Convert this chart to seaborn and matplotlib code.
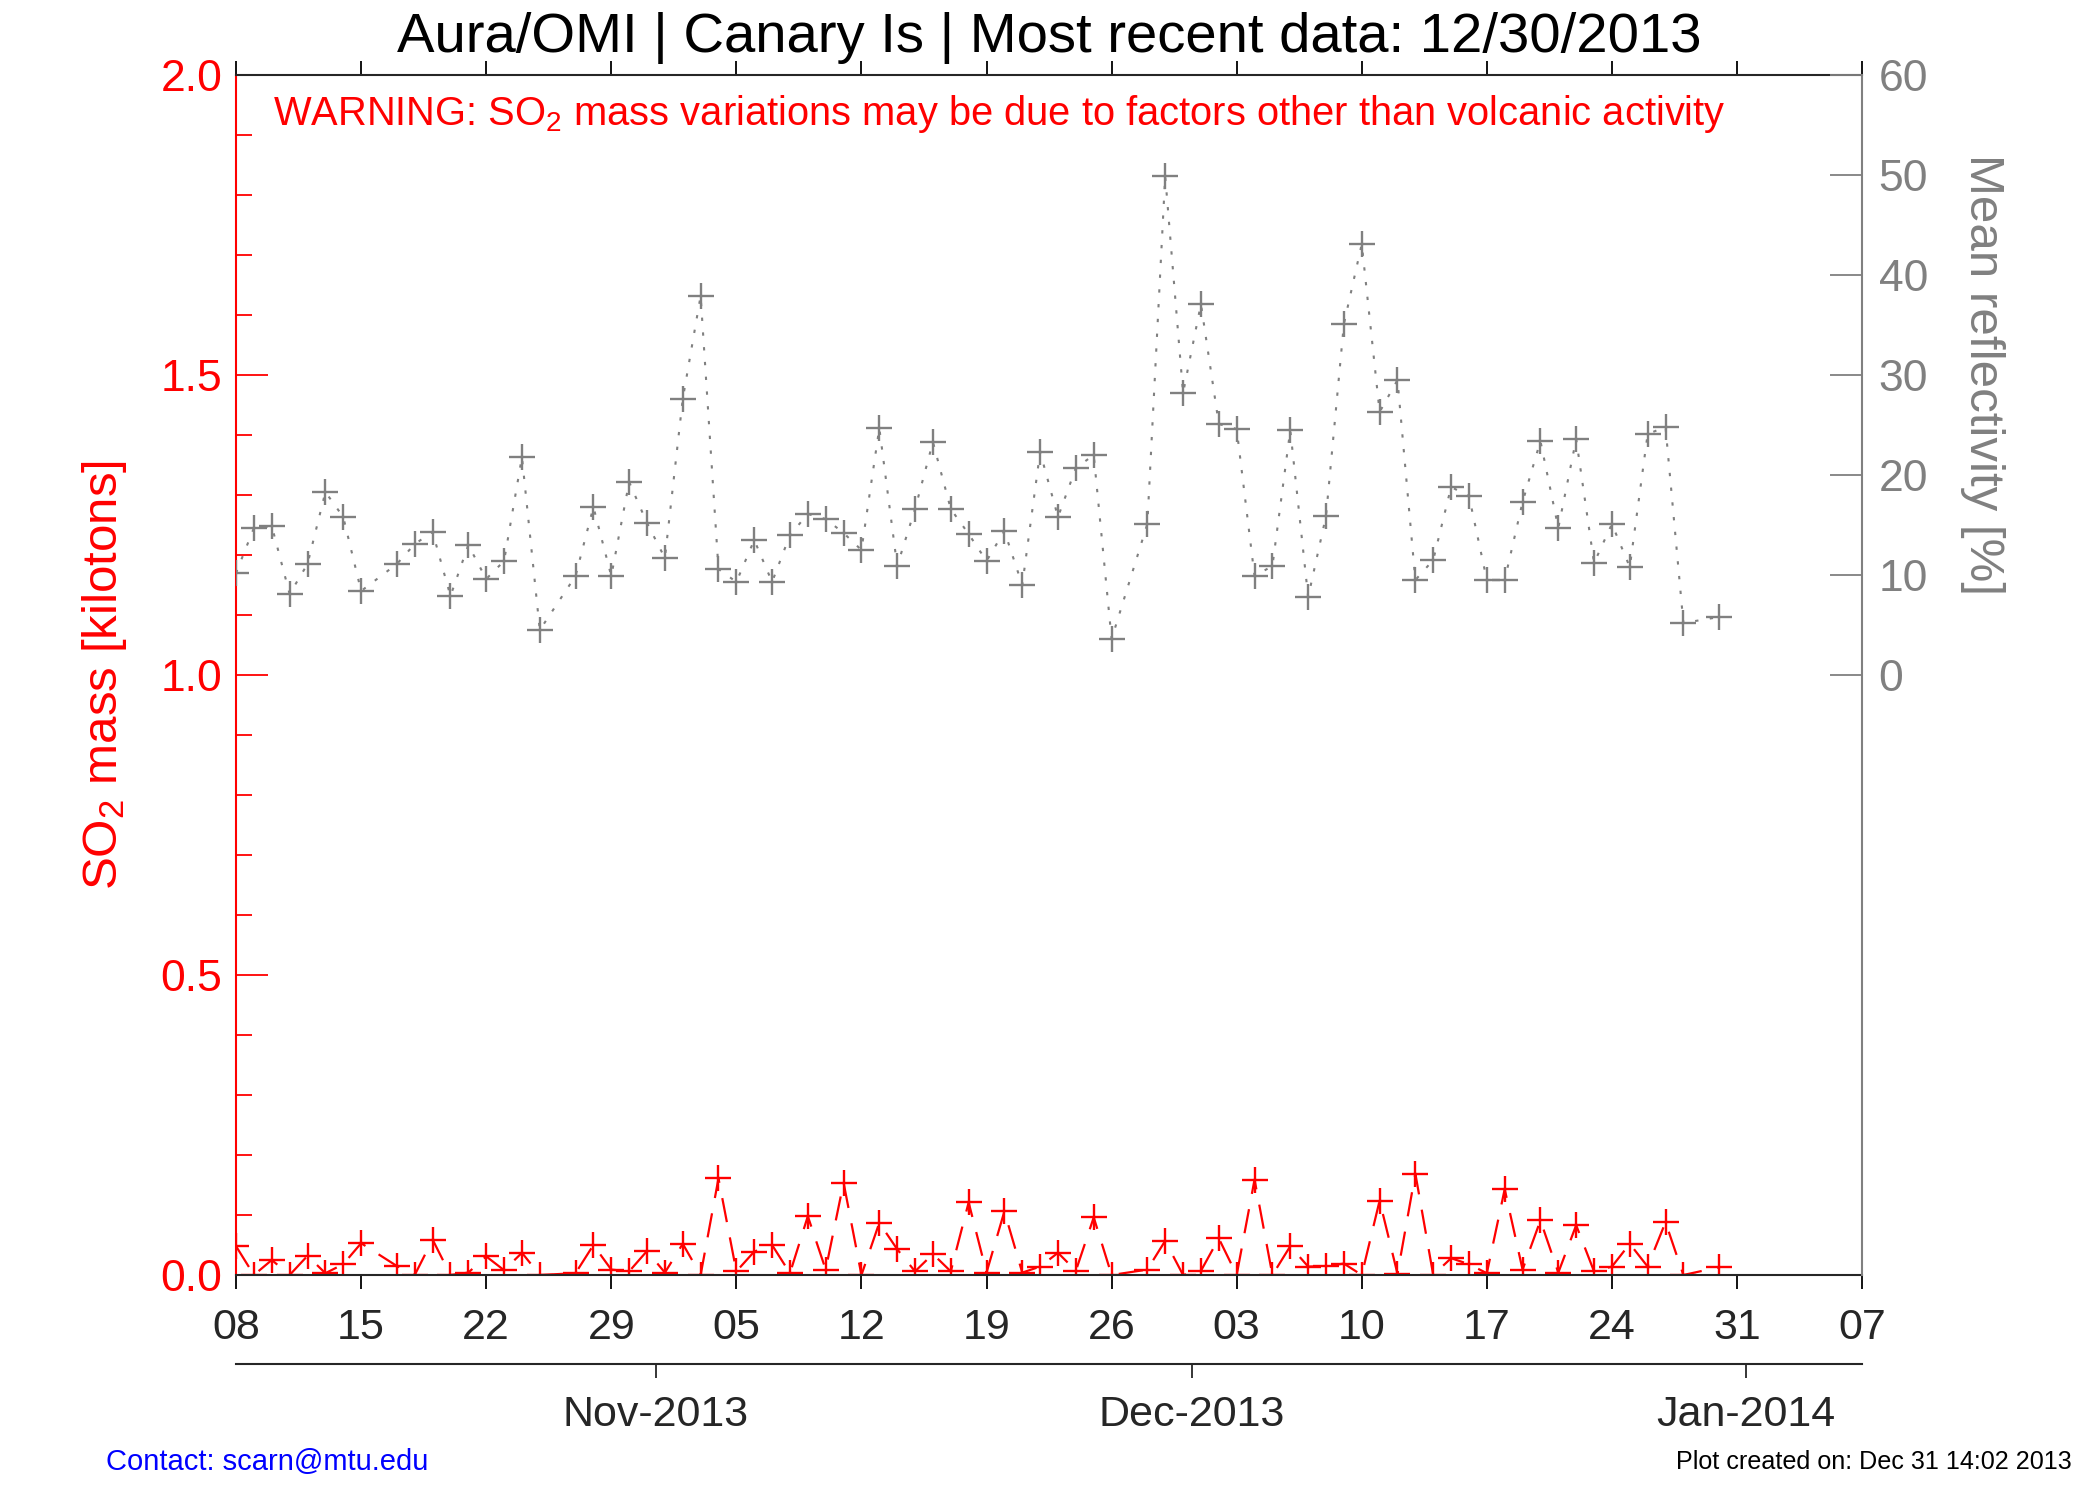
#!/usr/bin/env python3
"""Aura/OMI SO2 mass and mean reflectivity time series, Canary Is."""

import matplotlib as mpl
import matplotlib.dates as mdates
import matplotlib.pyplot as plt
from matplotlib.ticker import MultipleLocator, FormatStrFormatter
import pandas as pd
import seaborn as sns


# daily values Oct 8 .. Dec 30 2013, None = no overpass
refl_oct = [10.2, 14.7, 14.9, 8.1, 11.1, 18.3, 15.8, 8.4, None, 11.1, 13.1, 14.3,
            7.9, 13.0, 9.6, 11.4, 21.8, 4.5, None, 9.9, 16.8, 9.9, 19.3, 15.2]
refl_nov = [11.7, 27.6, 37.9, 10.6, 9.3, 13.5, 9.3, 14.0, 16.1, 15.6,
            14.2, 12.5, 24.7, 10.9, 16.6, 23.3, 16.6, 14.1, 11.4, 14.4,
            9.0, 22.3, 15.8, 20.7, 22.0, 3.6, None, 15.1, 49.9, 28.2]
refl_dec = [37.1, 25.1, 24.6, 9.9, 10.9, 24.5, 7.8, 15.9, 35.1, 43.1,
            26.3, 29.5, 9.5, 11.5, 18.8, 17.9, 9.5, 9.5, 17.3, 23.4,
            14.7, 23.6, 11.2, 15.1, 10.8, 24.1, 24.8, 5.2, None, 5.8]

so2_oct = [0.048, 0.0, 0.025, 0.0, 0.032, 0.003, 0.018, 0.053, None, 0.015, 0.0, 0.059,
           0.0, 0.004, 0.031, 0.008, 0.037, 0.0, None, 0.003, 0.050, 0.009, 0.006, 0.040]
so2_nov = [0.004, 0.052, 0.0, 0.161, 0.006, 0.039, 0.050, 0.003, 0.098, 0.009,
           0.154, 0.0, 0.087, 0.043, 0.006, 0.035, 0.006, 0.121, 0.004, 0.106,
           0.004, 0.014, 0.037, 0.007, 0.096, 0.0, None, 0.009, 0.057, 0.0]
so2_dec = [0.007, 0.061, 0.0, 0.159, 0.0, 0.048, 0.014, 0.015, 0.019, 0.0,
           0.124, 0.002, 0.169, 0.0, 0.028, 0.018, 0.003, 0.143, 0.009, 0.091,
           0.004, 0.083, 0.006, 0.014, 0.052, 0.014, 0.088, 0.0, None, 0.013]

days = pd.date_range("2013-10-08", "2013-12-30", freq="D")
week_ticks = pd.date_range("2013-10-08", "2014-01-07", freq="7D")
# the month marks sit about half a day before the 1st in the original
month_ticks = pd.to_datetime(["2013-10-31 12:00", "2013-11-30 12:00", "2013-12-31 12:00"])
month_labels = ["Nov-2013", "Dec-2013", "Jan-2014"]
x_start, x_end = pd.Timestamp("2013-10-08"), pd.Timestamp("2014-01-07")

RED = "#ff0000"
GRAY = "#808080"
BLUE = "#0000ff"
FONT = ["Liberation Sans", "DejaVu Sans"]


def main() -> None:
    sns.set_style("ticks")
    mpl.rcParams.update({
        "font.family": FONT,
        "mathtext.fontset": "custom",
        "mathtext.rm": "Liberation Sans",
        "mathtext.it": "Liberation Sans:italic",
        "axes.linewidth": 1.5,
    })

    df = pd.DataFrame({
        "date": days,
        "refl": refl_oct + refl_nov + refl_dec,
        "so2": so2_oct + so2_nov + so2_dec,
    })
    so2_df = df[["date", "so2"]].dropna()
    refl_df = df[["date", "refl"]].dropna()

    fig = plt.figure(figsize=(21, 15), dpi=100)
    ax = fig.add_axes([0.1124, 0.15, 0.7743, 0.80])
    ax2 = ax.twinx()

    sns.lineplot(data=so2_df, x="date", y="so2", ax=ax, color=RED, marker="+",
                 markersize=19, markeredgewidth=1.7, markeredgecolor=RED,
                 linewidth=1.6, linestyle=(0, (11, 7)), errorbar=None, sort=False)
    sns.lineplot(data=refl_df, x="date", y="refl", ax=ax2, color=GRAY, marker="+",
                 markersize=19, markeredgewidth=1.7, markeredgecolor=GRAY,
                 linewidth=1.5, linestyle=(0, (1.6, 5.5)), errorbar=None, sort=False)

    ax.set_xlim(x_start, x_end)
    ax.set_ylim(0, 2.0)
    ax2.set_ylim(-60, 60)

    # left axis (SO2 mass)
    ax.yaxis.set_major_locator(MultipleLocator(0.5))
    ax.yaxis.set_minor_locator(MultipleLocator(0.1))
    ax.yaxis.set_major_formatter(FormatStrFormatter("%.1f"))
    ax.tick_params(axis="y", which="major", direction="in", length=23, width=1.3,
                   color=RED, labelcolor=RED, labelsize=32, pad=10)
    ax.tick_params(axis="y", which="minor", direction="in", length=11.5, width=1.3, color=RED)
    ax.set_ylabel("SO$_2$ mass [kilotons]", color=RED, fontsize=35.5)
    ax.yaxis.set_label_coords(-0.066, 0.5)

    # right axis (reflectivity)
    ax2.set_yticks(range(0, 61, 10))
    ax2.tick_params(axis="y", direction="in", length=23, width=1.3,
                    color=GRAY, labelcolor=GRAY, labelsize=32, pad=12)
    ax2.set_ylabel("Mean reflectivity [%]", color=GRAY, fontsize=35.5, rotation=270,
                   va="center")
    ax2.yaxis.set_label_coords(1.074, 0.75)
    ax2.set_xlabel("")

    # day axis
    ax.set_xticks(week_ticks)
    ax.xaxis.set_major_formatter(mdates.DateFormatter("%d"))
    ax.xaxis.set_minor_locator(mpl.ticker.NullLocator())
    ax.tick_params(axis="x", direction="out", length=10, width=1.3, labelsize=31,
                   pad=14, top=True, color="black")
    ax.set_xlabel("")

    for side in ("left", "top", "bottom"):
        ax2.spines[side].set_visible(False)
    ax.spines["right"].set_visible(False)
    ax.spines["left"].set_color(RED)
    ax2.spines["right"].set_color(GRAY)
    ax2.spines["right"].set_linewidth(1.5)

    # month axis underneath
    sec = ax.secondary_xaxis(-0.0742)
    sec.set_xticks(mdates.date2num(month_ticks), month_labels)
    sec.tick_params(axis="x", direction="out", length=10, width=1.3, labelsize=31, pad=12)
    sec.spines["bottom"].set_linewidth(1.5)

    ax.text(0.0228, 0.958,
            "WARNING: SO$_2$ mass variations may be due to factors other than volcanic activity",
            transform=ax.transAxes, color=RED, fontsize=28.7, ha="left", va="baseline")

    fig.text(0.4997, 0.9653, "Aura/OMI | Canary Is | Most recent data: 12/30/2013",
             fontsize=40.5, ha="center", va="baseline", color="black")
    fig.text(0.0505, 0.020, "Contact: scarn@mtu.edu", fontsize=21, color=BLUE,
             ha="left", va="baseline")
    fig.text(0.9867, 0.0207, "Plot created on: Dec 31 14:02 2013", fontsize=18.1,
             color="black", ha="right", va="baseline")

    fig.savefig("out.png", dpi=100)
    plt.close(fig)


if __name__ == "__main__":
    main()
